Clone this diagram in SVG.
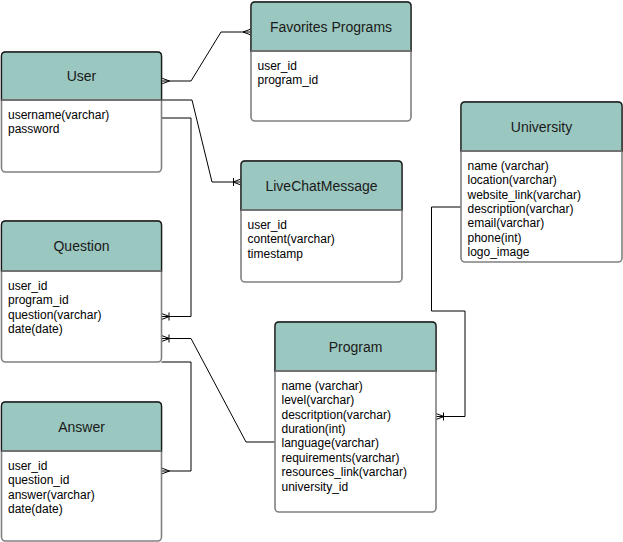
<svg xmlns="http://www.w3.org/2000/svg" width="623" height="542" viewBox="0 0 623 542">
<style>
.body{fill:#ffffff;stroke:#808080;stroke-width:1.6}
.head{fill:#9AC7BF;stroke:#1a1a1a;stroke-width:1.3}
.sep{stroke:#808080;stroke-width:1.3}
.title{font-family:"Liberation Sans",Arial,sans-serif;font-size:14px;fill:#1a1a1a;text-anchor:middle}
.field{font-family:"Liberation Sans",Arial,sans-serif;font-size:12px;fill:#000000}
.conn{fill:none;stroke:#000000;stroke-width:1}
</style>
<defs>
<marker id="many" markerUnits="userSpaceOnUse" markerWidth="12" markerHeight="12" refX="10" refY="6" orient="auto-start-reverse" overflow="visible">
<path d="M10,3 L2,6 L10,9" fill="none" stroke="#000" stroke-width="1"/>
</marker>
<marker id="oneMany" markerUnits="userSpaceOnUse" markerWidth="12" markerHeight="12" refX="10" refY="6" orient="auto-start-reverse" overflow="visible">
<path d="M10,3 L2,6 L10,9 M2.5,2 V10" fill="none" stroke="#000" stroke-width="1"/>
</marker>
</defs>

<g id="connectors">
<path class="conn" d="M161.5,81 H191 L221,32 H251" marker-start="url(#many)" marker-end="url(#many)"/>
<path class="conn" d="M161.5,100 H192 L212,182 H241" marker-end="url(#oneMany)"/>
<path class="conn" d="M161.5,118 H191 V316.5 H161.5" marker-end="url(#oneMany)"/>
<path class="conn" d="M275,442 H246 L191,338.5 H161.5" marker-end="url(#oneMany)"/>
<path class="conn" d="M161.5,362 H191 V471 H161.5" marker-end="url(#many)"/>
<path class="conn" d="M461,207 H431.5 V311 H465 V416.5 H436" marker-end="url(#oneMany)"/>
</g>

<g id="user">
<rect class="body" x="1.5" y="52" width="160" height="120" rx="4"/>
<path class="head" d="M1.5,100 V56 Q1.5,52 5.5,52 H157.5 Q161.5,52 161.5,56 V100 Z"/>
<line class="sep" x1="1.5" y1="100" x2="161.5" y2="100"/>
<text class="title" x="81.5" y="81">User</text>
<text class="field" x="8" y="118.8">username(varchar)</text>
<text class="field" x="8" y="133.2">password</text>
</g>

<g id="favorites">
<rect class="body" x="251" y="2" width="160" height="119" rx="4"/>
<path class="head" d="M251,51 V6 Q251,2 255,2 H407 Q411,2 411,6 V51 Z"/>
<line class="sep" x1="251" y1="51" x2="411" y2="51"/>
<text class="title" x="331" y="31.5">Favorites Programs</text>
<text class="field" x="257.5" y="69.8">user_id</text>
<text class="field" x="257.5" y="84.2">program_id</text>
</g>

<g id="livechat">
<rect class="body" x="241" y="161" width="161" height="121" rx="4"/>
<path class="head" d="M241,210 V165 Q241,161 245,161 H398 Q402,161 402,165 V210 Z"/>
<line class="sep" x1="241" y1="210" x2="402" y2="210"/>
<text class="title" x="321.5" y="190.5">LiveChatMessage</text>
<text class="field" x="247.5" y="228.8">user_id</text>
<text class="field" x="247.5" y="243.2">content(varchar)</text>
<text class="field" x="247.5" y="257.6">timestamp</text>
</g>

<g id="university">
<rect class="body" x="461" y="102" width="161" height="160" rx="4"/>
<path class="head" d="M461,151 V106 Q461,102 465,102 H618 Q622,102 622,106 V151 Z"/>
<line class="sep" x1="461" y1="151" x2="622" y2="151"/>
<text class="title" x="541.5" y="131.5">University</text>
<text class="field" x="467.5" y="169.8">name (varchar)</text>
<text class="field" x="467.5" y="184.2">location(varchar)</text>
<text class="field" x="467.5" y="198.6">website_link(varchar)</text>
<text class="field" x="467.5" y="213">description(varchar)</text>
<text class="field" x="467.5" y="227.4">email(varchar)</text>
<text class="field" x="467.5" y="241.8">phone(int)</text>
<text class="field" x="467.5" y="256.2">logo_image</text>
</g>

<g id="question">
<rect class="body" x="1.5" y="221" width="160" height="141" rx="4"/>
<path class="head" d="M1.5,271 V225 Q1.5,221 5.5,221 H157.5 Q161.5,221 161.5,225 V271 Z"/>
<line class="sep" x1="1.5" y1="271" x2="161.5" y2="271"/>
<text class="title" x="81.5" y="251">Question</text>
<text class="field" x="8" y="289.8">user_id</text>
<text class="field" x="8" y="304.2">program_id</text>
<text class="field" x="8" y="318.6">question(varchar)</text>
<text class="field" x="8" y="333">date(date)</text>
</g>

<g id="program">
<rect class="body" x="275" y="322" width="161" height="190" rx="4"/>
<path class="head" d="M275,371 V326 Q275,322 279,322 H432 Q436,322 436,326 V371 Z"/>
<line class="sep" x1="275" y1="371" x2="436" y2="371"/>
<text class="title" x="355.5" y="351.5">Program</text>
<text class="field" x="281.5" y="389.8">name (varchar)</text>
<text class="field" x="281.5" y="404.2">level(varchar)</text>
<text class="field" x="281.5" y="418.6">descritption(varchar)</text>
<text class="field" x="281.5" y="433">duration(int)</text>
<text class="field" x="281.5" y="447.4">language(varchar)</text>
<text class="field" x="281.5" y="461.8">requirements(varchar)</text>
<text class="field" x="281.5" y="476.2">resources_link(varchar)</text>
<text class="field" x="281.5" y="490.6">university_id</text>
</g>

<g id="answer">
<rect class="body" x="1.5" y="402" width="160" height="139" rx="4"/>
<path class="head" d="M1.5,451 V406 Q1.5,402 5.5,402 H157.5 Q161.5,402 161.5,406 V451 Z"/>
<line class="sep" x1="1.5" y1="451" x2="161.5" y2="451"/>
<text class="title" x="81.5" y="431.5">Answer</text>
<text class="field" x="8" y="469.8">user_id</text>
<text class="field" x="8" y="484.2">question_id</text>
<text class="field" x="8" y="498.6">answer(varchar)</text>
<text class="field" x="8" y="513">date(date)</text>
</g>
</svg>
